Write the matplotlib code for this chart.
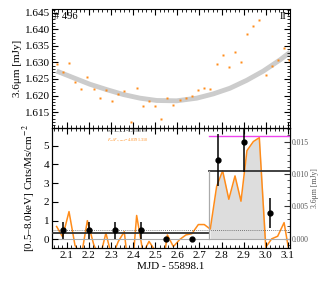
import matplotlib
matplotlib.use('Agg')
import matplotlib.pyplot as plt
from matplotlib.ticker import MultipleLocator
import numpy as np

plt.rcParams['font.family'] = ['Liberation Serif', 'DejaVu Serif']
plt.rcParams['mathtext.fontset'] = 'stix'

# IR light curve (3.6um), MJD - 55898.1
ir_t = [2.054, 2.081, 2.110, 2.137, 2.166, 2.193, 2.222, 2.249, 2.277, 2.304,
        2.333, 2.360, 2.389, 2.416, 2.445, 2.472, 2.499, 2.528, 2.555, 2.582,
        2.611, 2.639, 2.666, 2.695, 2.722, 2.749, 2.778, 2.805, 2.833, 2.861,
        2.888, 2.915, 2.944, 2.971, 3.000, 3.027, 3.054, 3.083, 3.107]
ir_flux = [1.6295, 1.6271, 1.6298, 1.6242, 1.6219, 1.6257, 1.6221, 1.6194,
           1.6217, 1.6184, 1.6204, 1.6213, 1.6121, 1.6222, 1.6168, 1.6184,
           1.6168, 1.6129, 1.6194, 1.6172, 1.6185, 1.6194, 1.6198, 1.6218,
           1.6223, 1.6219, 1.6295, 1.6322, 1.6287, 1.6331, 1.6302, 1.6385,
           1.6411, 1.6429, 1.6263, 1.6288, 1.6307, 1.6345, 1.6307]

# baseline curve
base_t = [2.054, 2.129, 2.205, 2.280, 2.356, 2.431, 2.507, 2.597, 2.688,
          2.763, 2.838, 2.914, 2.989, 3.065, 3.110]
base_flux = [1.6274, 1.6254, 1.6234, 1.6218, 1.6203, 1.6192, 1.6185, 1.6184,
             1.6192, 1.6205, 1.6222, 1.6246, 1.6274, 1.6308, 1.6331]

# IR residual (bottom panel, right axis)
ir_resid = [0.0019, 0.0003, 0.0042, -0.0010, -0.0026, 0.0028, -0.0009, -0.0030,
            0.0009, -0.0029, -0.0004, 0.0011, -0.0077, 0.0036, -0.0022, -0.0004,
            -0.0018, -0.0056, 0.0006, -0.0012, -0.0001, 0.0006, 0.0008, 0.0022,
            0.0022, 0.0015, 0.0081, 0.0105, 0.0061, 0.0097, 0.0058, 0.0136,
            0.0150, 0.0156, -0.0013, 0.0000, 0.0004, 0.0025, -0.0023]

# X-ray rate
x_t = [2.083, 2.200, 2.317, 2.434, 2.551, 2.668, 2.785, 2.902, 3.019]
x_rate = [0.47, 0.47, 0.47, 0.47, 0.0, 0.0, 4.23, 5.17, 1.41]
x_err = [0.47, 0.47, 0.47, 0.47, 0.0, 0.0, 1.41, 1.56, 0.81]

# blocks
block_edge = 2.745
block_low = 0.35
block_high = 3.65
x_mean = 0.51
ir_peak = 0.01584

orange = '#ff8c1a'
xlim = (2.033, 3.110)

fig = plt.figure(figsize=(3.27, 2.83), dpi=100)
ax1 = fig.add_axes([0.159, 0.548, 0.728, 0.4205])
ax2 = fig.add_axes([0.159, 0.124, 0.728, 0.424])

# --- top panel
ax1.plot(base_t, base_flux, color='#cccccc', lw=3.5, solid_capstyle='butt', zorder=1)
ax1.plot(ir_t, ir_flux, 's', color=orange, ms=2.0, mec='none', zorder=2)
ax1.set_xlim(xlim)
ax1.set_ylim(1.6102, 1.6462)
ax1.set_ylabel('3.6μm [mJy]', fontsize=8, labelpad=2)
ax1.yaxis.set_major_locator(MultipleLocator(0.005))
ax1.yaxis.set_minor_locator(MultipleLocator(0.001))
ax1.xaxis.set_major_locator(MultipleLocator(0.1))
ax1.xaxis.set_minor_locator(MultipleLocator(0.02))
ax1.yaxis.set_major_formatter(plt.FormatStrFormatter('%.3f'))
ax1.tick_params(which='both', direction='in', top=True, right=True,
                labelbottom=False, labelsize=8, pad=1.5)
ax1.tick_params(which='major', length=4)
ax1.tick_params(which='minor', length=2)
ax1.text(0.01, 0.97, '# 496', transform=ax1.transAxes, fontsize=7.5,
         va='top', ha='left')
ax1.text(0.985, 0.97, 'II', transform=ax1.transAxes, fontsize=7.5,
         va='top', ha='right')

# --- bottom panel
ax2.set_xlim(xlim)
ax2.set_ylim(-0.46, 5.94)
ax2.axhline(0, color='#aaaaaa', lw=0.8, zorder=1)
ax2.axhline(x_mean, color='#555555', lw=0.6, ls=(0, (1, 1.5)), zorder=1)
ax2.plot([xlim[0], block_edge], [block_low, block_low], color='#333333', lw=1.3, zorder=3)
ax2.plot([block_edge, xlim[1]], [block_high, block_high], color='#333333', lw=1.3, zorder=3)
ax2.plot([block_edge, block_edge], [0, block_high], color='#aaaaaa', lw=0.9, zorder=3)
ax2.errorbar(x_t, x_rate, yerr=x_err, fmt='o', color='black', ms=3.5,
             elinewidth=1.1, capsize=0, zorder=5)
ax2.set_ylabel('[0.5–8.0keV] Cnts/Ms/cm$^{-2}$', fontsize=8, labelpad=4)
ax2.set_xlabel('MJD - 55898.1', fontsize=8, labelpad=2)
ax2.xaxis.set_major_locator(MultipleLocator(0.1))
ax2.xaxis.set_minor_locator(MultipleLocator(0.02))
ax2.yaxis.set_major_locator(MultipleLocator(1))
ax2.tick_params(which='both', direction='in', top=True, right=False,
                labelsize=8, pad=2)
ax2.tick_params(which='major', length=4)
ax2.tick_params(which='minor', length=2)
ax2.text(0.23, 0.97, r'$\sigma_{IR}/A_{IR,peak}$=0.28/0.009', transform=ax2.transAxes,
         fontsize=3.0, color='#444444', va='center')
ax2.text(0.23, 0.895, r'$F_{IR}/F_{X,peak}$=4.03/91.310', transform=ax2.transAxes,
         fontsize=3.0, color=orange, va='center')

ax3 = ax2.twinx()
ax3.set_ylim(-0.0014, 0.0171)
resid = np.array(ir_resid)
tt = np.array(ir_t)
mask = (tt >= 2.745) & (tt <= 3.0)
ax3.fill_between(tt, 0, np.clip(resid, 0, None), where=mask, color='#dddddd',
                 lw=0, zorder=0)
ax3.plot(ir_t, ir_resid, color=orange, lw=1.1, zorder=2)
ax3.plot([block_edge, xlim[1]], [ir_peak, ir_peak], color='#ee44ee', lw=1.0, zorder=3)
ax3.yaxis.set_major_locator(MultipleLocator(0.005))
ax3.yaxis.set_minor_locator(MultipleLocator(0.001))
ax3.yaxis.set_major_formatter(plt.FormatStrFormatter('%.3f'))
ax3.tick_params(which='both', direction='in', labelsize=5.5, colors='#333333',
                labelcolor='#555555', pad=1.5)
ax3.tick_params(which='major', length=4)
ax3.tick_params(which='minor', length=2)
ax3.set_ylabel('3.6μm [mJy]', fontsize=5.5, color='#555555', labelpad=1)
ax2.set_zorder(ax3.get_zorder() + 1)
ax2.patch.set_visible(False)

fig.savefig('out.png', dpi=100)
